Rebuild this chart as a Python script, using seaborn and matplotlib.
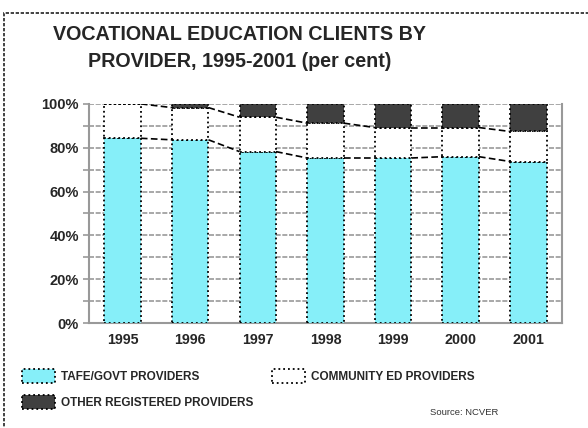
import matplotlib
matplotlib.use("Agg")
import matplotlib.pyplot as plt
from matplotlib.patches import Rectangle, Patch
import numpy as np
import pandas as pd
import seaborn as sns

# ----------------------------------------------------------
# data (per cent of clients)
# ----------------------------------------------------------
years = ["1995", "1996", "1997", "1998", "1999", "2000", "2001"]
tafe = [84.3, 83.6, 78.2, 75.3, 75.3, 75.9, 73.7]
community = [15.7, 14.7, 15.7, 15.9, 13.9, 13.3, 13.7]
other = [0.0, 1.7, 6.1, 8.8, 10.8, 10.8, 12.6]

series_names = ["TAFE/GOVT PROVIDERS", "COMMUNITY ED PROVIDERS",
                "OTHER REGISTERED PROVIDERS"]
colours = ["#86EFF9", "#FFFFFF", "#404040"]

sns.set_style("white")
plt.rcParams["font.family"] = ["Liberation Sans", "DejaVu Sans"]

df = pd.DataFrame({"year": years, "tafe": tafe,
                   "community": community, "other": other})
df["cum1"] = df["tafe"]
df["cum2"] = df["tafe"] + df["community"]

fig = plt.figure(figsize=(5.88, 4.28), dpi=100)
ax = fig.add_axes([0.151, 0.2453, 0.805, 0.512])

bar_w = 0.54
edge = dict(edgecolor="black", linestyle=":", linewidth=1.3)
sns.barplot(data=df, x="year", y="tafe", color=colours[0], width=bar_w,
            saturation=1, ax=ax, zorder=3, **edge)
sns.barplot(data=df, x="year", y="community", bottom=df["cum1"],
            color=colours[1], width=bar_w, saturation=1, ax=ax, zorder=3, **edge)
sns.barplot(data=df, x="year", y="other", bottom=df["cum2"],
            color=colours[2], width=bar_w, saturation=1, ax=ax, zorder=3, **edge)

# series lines between bars
x = np.arange(len(years))
for col in ["cum1", "cum2"]:
    vals = df[col].values
    for i in range(len(years) - 1):
        ax.plot([x[i] + bar_w / 2, x[i + 1] - bar_w / 2], [vals[i], vals[i + 1]],
                color="black", linestyle=(0, (4, 2)), linewidth=1.2, zorder=4)

ax.set_xlim(-0.5, len(years) - 0.5)
ax.set_ylim(0, 100)
ax.set_xlabel("")
ax.set_ylabel("")
ax.set_yticks(np.arange(0, 101, 20))
ax.set_yticks(np.arange(10, 100, 20), minor=True)
ax.set_yticklabels([f"{v}%" for v in range(0, 101, 20)],
                   fontsize=10.5, fontweight="bold")
ax.set_xticks(x)
ax.set_xticklabels(years, fontsize=10.3, fontweight="bold")
ax.set_xticks(np.arange(-0.5, len(years)), minor=True)
ax.tick_params(axis="x", which="major", length=0, pad=7)
ax.tick_params(axis="x", which="minor", length=4, color="#999999", width=1.2, direction="out")
ax.tick_params(axis="y", which="both", length=4, color="#999999", width=1.2,
               direction="out", pad=3, left=True)
ax.yaxis.grid(True, which="both", color="#999999", linestyle=(0, (3, 1)),
              linewidth=1.2, zorder=0)
ax.set_axisbelow(True)
for s in ax.spines.values():
    s.set_color("#999999")
    s.set_linewidth(1.5)
ax.spines["top"].set_visible(False)

# title
fig.text(0.408, 0.888, "VOCATIONAL EDUCATION CLIENTS BY\nPROVIDER, 1995-2001 (per cent)",
         ha="center", va="center", fontsize=14.2, fontweight="bold",
         linespacing=1.55)

# legend
handles = [Patch(facecolor=colours[0], **edge),
           Patch(facecolor=colours[2], **edge),
           Patch(facecolor=colours[1], **edge)]
labels = [series_names[0], series_names[2], series_names[1]]
fig.legend(handles, labels, loc="upper left", bbox_to_anchor=(0.03, 0.15),
           ncol=2, frameon=False, prop=dict(size=8.5, weight="bold"),
           handlelength=2.8, handleheight=1.5, handletextpad=0.5,
           columnspacing=1.55, labelspacing=1.0, borderaxespad=0)

fig.text(0.789, 0.037, "Source: NCVER", ha="center", va="center", fontsize=6.8,
         color="#333333")

# dashed border around the chart
border = Rectangle((4 / 588, -0.2), 1.2, 1.2 - 13 / 428,
                   transform=fig.transFigure, fill=False,
                   edgecolor="#222222", linestyle=(0, (2, 1)),
                   linewidth=1.2, clip_on=False, zorder=10)
fig.add_artist(border)

fig.savefig("out.png", dpi=100, facecolor="white")
